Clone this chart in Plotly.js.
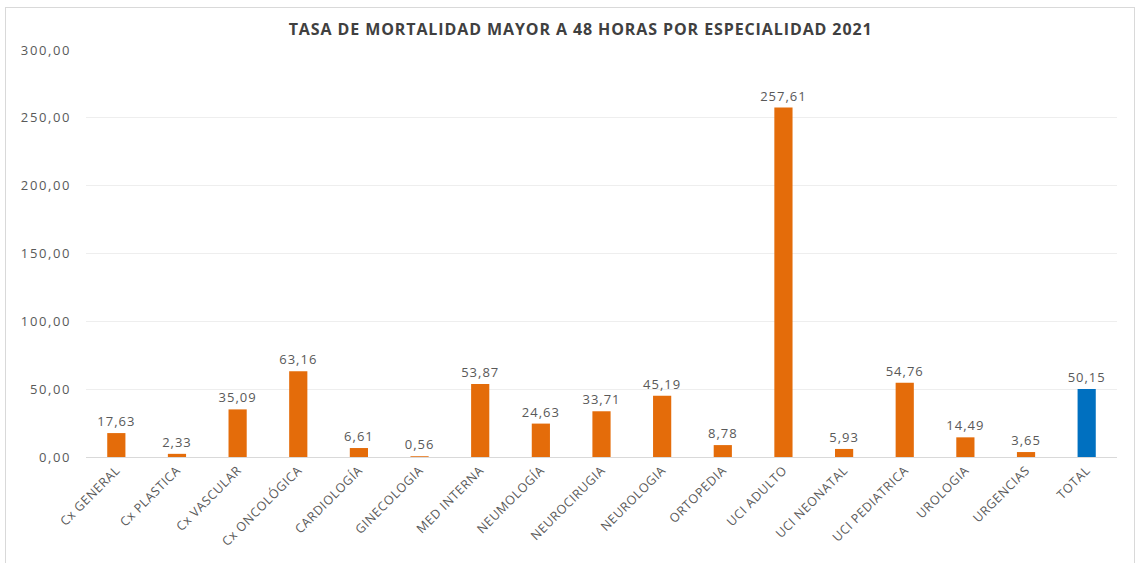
<!DOCTYPE html>
<html><head><meta charset="utf-8">
<script src="https://cdn.plot.ly/plotly-3.0.1.min.js"></script>
<style>html,body{margin:0;padding:0;background:#fff;}#chart{width:1143px;height:563px;}
#frame{position:absolute;left:5px;top:7px;width:1128px;height:560px;border:1px solid #d9d9d9;pointer-events:none;}
.gtitle{letter-spacing:0.9px;}
.ytick text{letter-spacing:1.6px;}
text.bartext{letter-spacing:1px;}
.xtick text{letter-spacing:0.6px;}
</style>
</head><body>
<div id="chart"></div><div id="frame"></div>
<script>
const categories = ["Cx GENERAL","Cx PLASTICA","Cx VASCULAR","Cx ONCOLÓGICA","CARDIOLOGÍA","GINECOLOGIA","MED INTERNA","NEUMOLOGÍA","NEUROCIRUGIA","NEUROLOGIA","ORTOPEDIA","UCI ADULTO","UCI NEONATAL","UCI PEDIATRICA","UROLOGIA","URGENCIAS","TOTAL"];
const values = [17.63,2.33,35.09,63.16,6.61,0.56,53.87,24.63,33.71,45.19,8.78,257.61,5.93,54.76,14.49,3.65,50.15];
const barColors = categories.map(c => c === "TOTAL" ? "#0070C0" : "#E46C0A");

const trace = {
  type: "bar", x: categories, y: values,
  marker: {color: barColors},
  texttemplate: "%{y:.2f}", textposition: "outside", cliponaxis: false,
  constraintext: "none", textangle: 0,
  textfont: {family: "Open Sans, sans-serif", size: 13, color: "#595959"},
  hoverinfo: "x+y"
};
const layout = {
  width: 1143, height: 563,
  margin: {l: 86, r: 26, t: 50, b: 106},
  separators: ",.",
  paper_bgcolor: "#fff", plot_bgcolor: "#fff",
  bargap: 0.7,
  title: {text: "TASA DE MORTALIDAD MAYOR A 48 HORAS POR ESPECIALIDAD 2021", x: 0.508, xanchor: "center", y: 0.948, yanchor: "middle",
    font: {family: "Open Sans, sans-serif", size: 16, color: "#404040", weight: "bold"}},
  xaxis: {tickangle: -45, tickfont: {family: "Open Sans, sans-serif", size: 12.5, color: "#595959"},
    showline: true, linecolor: "#d9d9d9", ticks: "", automargin: false},
  yaxis: {range: [0, 300], dtick: 50, tickformat: ".2f", showgrid: true, gridcolor: "#eeeeee",
    zeroline: false, tickfont: {family: "Open Sans, sans-serif", size: 13, color: "#595959"}, ticks: "",
    ticklabelstandoff: 14, automargin: false},
  showlegend: false
};
Plotly.newPlot("chart", [trace], layout, {displayModeBar: false, staticPlot: true});
</script>
</body></html>
